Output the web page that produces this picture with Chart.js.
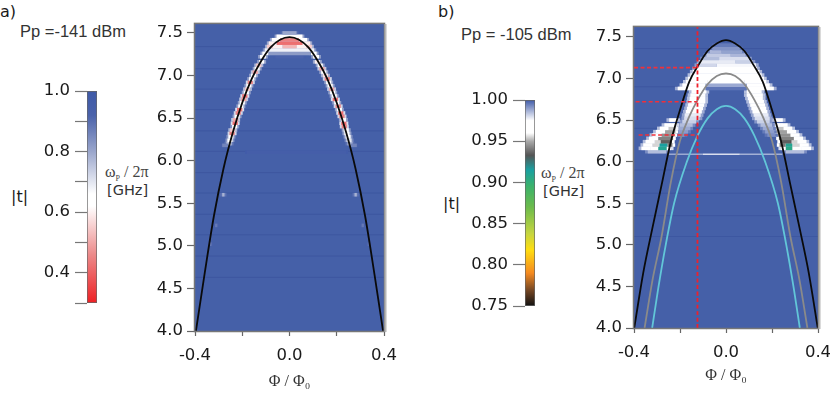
<!DOCTYPE html>
<html>
<head>
<meta charset="utf-8">
<script src="https://cdn.jsdelivr.net/npm/chart.js@4"></script>
<style>
  html, body { margin: 0; padding: 0; background: #fff; }
  #page { position: relative; width: 830px; height: 394px; overflow: hidden; }
  #page canvas { position: absolute; }
  .lbl { position: absolute; white-space: nowrap; color: #1a1a1a; font-family: "Liberation Sans", sans-serif; }
  .big { font-family: "DejaVu Sans", sans-serif; font-size: 16px; }
  .pp { font-size: 16.5px; color: #333; }
  .om { font-family: "Liberation Serif", serif; font-size: 16px; color: #444; }
  .om sub { font-size: 8px; }
  .ghz { font-family: "DejaVu Sans", sans-serif; font-size: 14.5px; color: #333; }
</style>
</head>
<body>
<div id="page">
  <div class="lbl big" style="left:0;top:2px">a)</div>
  <div class="lbl pp" style="left:20px;top:22px">Pp =-141 dBm</div>
  <div class="lbl big" style="left:11px;top:187px">|t|</div>
  <div class="lbl om" style="left:105px;top:163px">&omega;<sub>P</sub> / 2&pi;</div>
  <div class="lbl ghz" style="left:107px;top:182px">[GHz]</div>
  <div class="lbl big" style="left:438px;top:2px">b)</div>
  <div class="lbl pp" style="left:461px;top:25px">Pp = -105 dBm</div>
  <div class="lbl big" style="left:443px;top:194px">|t|</div>
  <div class="lbl om" style="left:541px;top:164px">&omega;<sub>P</sub> / 2&pi;</div>
  <div class="lbl ghz" style="left:543px;top:183px">[GHz]</div>
</div>
<script>
/* Ticks */
var phiTicks = [-0.4, -0.2, 0, 0.2, 0.4];
var phiLabels = [-0.4, 0, 0.4];
var freqTicks = [4, 4.5, 5, 5.5, 6, 6.5, 7, 7.5];

/* Colour scales: |t| stop -> colour */
var stopsA = [0.3, 0.46, 0.62, 0.66, 0.8, 0.92, 1.0];
var colorsA = ['#ee2024', '#ec8a8a', '#ffffff', '#ffffff', '#9aa6cc', '#4a62aa', '#3f5aa8'];
var stopsB = [0.75, 0.77, 0.79, 0.818, 0.838, 0.87, 0.895, 0.915, 0.933, 0.95, 0.96, 0.975, 1.0];
var colorsB = ['#111111', '#7a4a25', '#f58a20', '#ffdd10', '#c5d540', '#6cbb4c', '#3cb26a', '#1aa0a0', '#555555', '#aaaaaa', '#ffffff', '#ffffff', '#3f5aa8'];

/* Panel a, fitted curve */
var curvePhiA = [-0.396, -0.36, -0.32, -0.28, -0.24, -0.2, -0.16, -0.12, -0.08, -0.04, 0, 0.04, 0.08, 0.12, 0.16, 0.2, 0.24, 0.28, 0.32, 0.36, 0.396];
var curveFreqA = [4, 4.66, 5.35, 5.9, 6.33, 6.68, 6.96, 7.17, 7.33, 7.42, 7.45, 7.42, 7.33, 7.17, 6.96, 6.68, 6.33, 5.9, 5.35, 4.66, 4];

/* Panel b, three curves */
var blackPhiB = [-0.399, -0.36, -0.32, -0.28, -0.24, -0.2, -0.16, -0.12, -0.08, -0.04, 0, 0.04, 0.08, 0.12, 0.16, 0.2, 0.24, 0.28, 0.32, 0.36, 0.399];
var blackFreqB = [4, 4.66, 5.2, 5.72, 6.24, 6.62, 6.96, 7.16, 7.33, 7.42, 7.46, 7.42, 7.33, 7.16, 6.96, 6.62, 6.24, 5.72, 5.2, 4.66, 4];
var grayPhiB = [-0.354, -0.32, -0.28, -0.24, -0.2, -0.16, -0.124, -0.08, -0.04, 0, 0.04, 0.08, 0.124, 0.16, 0.2, 0.24, 0.28, 0.32, 0.354];
var grayFreqB = [4, 4.57, 5.1, 5.75, 6.25, 6.54, 6.74, 6.93, 7.03, 7.06, 7.03, 6.93, 6.74, 6.54, 6.25, 5.75, 5.1, 4.57, 4];
var cyanPhiB = [-0.321, -0.295, -0.262, -0.2256, -0.17, -0.124, -0.08, -0.04, 0, 0.04, 0.08, 0.124, 0.17, 0.2256, 0.262, 0.295, 0.321];
var cyanFreqB = [4, 4.47, 5, 5.5, 6, 6.31, 6.52, 6.63, 6.67, 6.63, 6.52, 6.31, 6, 5.5, 5, 4.47, 4];

/* Panel b, dashed markers */
var markerPhiB = -0.124;
var markerFreqB = [7.13, 6.72, 6.32];
var markerStartB = [-0.4, -0.393, -0.38];

/* Dark background rows */
var stripesA = [7.34, 7.08, 6.84, 6.6, 6.35, 6.11, 5.86, 5.62, 5.37, 5.13, 4.88, 4.63];
var stripesB = [7.36, 6.9, 6.4, 5.9, 5.62, 5.35, 5.1];

/* Panel a ridge along the curve: row, centre, |t| left and right */
var ridgeFreqA = [7.16, 7.12, 7.08, 7.04, 7.0, 6.96, 6.92, 6.88, 6.84, 6.8, 6.76, 6.72, 6.68, 6.64, 6.6, 6.56, 6.52, 6.48, 6.44, 6.4, 6.36, 6.32, 6.28, 6.24, 6.2];
var ridgePhiA = [0.118, 0.13, 0.137, 0.145, 0.152, 0.16, 0.166, 0.172, 0.178, 0.183, 0.189, 0.194, 0.2, 0.206, 0.211, 0.217, 0.222, 0.228, 0.23, 0.232, 0.24, 0.243, 0.248, 0.252, 0.256];
var ridgeLeftA = [0.62, 0.55, 0.62, 0.5, 0.62, 0.62, 0.45, 0.62, 0.55, 0.62, 0.42, 0.5, 0.62, 0.62, 0.42, 0.45, 0.62, 0.5, 0.42, 0.66, 0.55, 0.45, 0.66, 0.66, 0.75];
var ridgeRightA = [0.6, 0.62, 0.5, 0.62, 0.58, 0.45, 0.62, 0.62, 0.5, 0.62, 0.62, 0.42, 0.62, 0.45, 0.62, 0.42, 0.45, 0.62, 0.42, 0.45, 0.62, 0.62, 0.66, 0.7, 0.78];

/* Measured cells: [freq, phi from, phi to, |t|] */
var cellsA = [
  [7.50, -0.03, 0.03, 0.8], [7.46, -0.055, 0.055, 0.62],
  [7.42, -0.075, -0.04, 0.62], [7.42, -0.04, 0.04, 0.45], [7.42, 0.04, 0.075, 0.62],
  [7.38, -0.088, -0.055, 0.6], [7.38, -0.055, 0.055, 0.42], [7.38, 0.055, 0.088, 0.6],
  [7.34, -0.095, -0.07, 0.55], [7.34, -0.07, -0.03, 0.6], [7.34, -0.03, 0.03, 0.52], [7.34, 0.03, 0.07, 0.6], [7.34, 0.07, 0.095, 0.55],
  [7.30, -0.105, 0.105, 0.68], [7.26, -0.115, -0.09, 0.62], [7.26, -0.09, 0.09, 0.82], [7.26, 0.09, 0.115, 0.62],
  [7.22, -0.125, -0.10, 0.62], [7.22, -0.06, 0.06, 0.92], [7.22, 0.10, 0.125, 0.62],
  [6.18, -0.285, -0.26, 0.86], [6.18, 0.26, 0.285, 0.86], [6.10, -0.18, 0.24, 0.96],
  [5.60, -0.285, -0.275, 0.78], [5.60, 0.275, 0.285, 0.78], [5.24, -0.315, -0.305, 0.88], [5.24, 0.305, 0.315, 0.88],
  [5.02, -0.34, -0.33, 0.88], [5.02, 0.33, 0.34, 0.9]
];
var cellsB = [
  [7.40, -0.05, 0.05, 0.995], [7.36, -0.06, 0.06, 0.991], [7.32, -0.07, -0.02, 0.986], [7.32, -0.02, 0.07, 0.989],
  [7.28, -0.085, 0.02, 0.983], [7.28, 0.02, 0.085, 0.986], [7.24, -0.10, -0.03, 0.985], [7.24, -0.03, 0.10, 0.98],
  [7.20, -0.115, 0.04, 0.978], [7.20, 0.04, 0.115, 0.982], [7.16, -0.125, -0.04, 0.981], [7.16, -0.04, 0.13, 0.976], [7.12, -0.135, 0.135, 0.975],
  [7.08, -0.145, 0.145, 0.972], [7.04, -0.155, 0.155, 0.97], [7.00, -0.165, 0.165, 0.968],
  [6.96, -0.175, -0.08, 0.968], [6.96, -0.08, 0.08, 0.975], [6.96, 0.08, 0.175, 0.968],
  [6.92, -0.19, -0.09, 0.97], [6.92, -0.09, 0.09, 0.988], [6.92, 0.09, 0.19, 0.97],
  [6.88, -0.21, -0.09, 0.975], [6.88, -0.09, 0.09, 0.996], [6.88, 0.09, 0.208, 0.975],
  [6.84, -0.15, -0.085, 0.97], [6.84, 0.09, 0.155, 0.97], [6.80, -0.155, -0.09, 0.97], [6.80, 0.09, 0.16, 0.97],
  [6.76, -0.158, -0.09, 0.97], [6.76, 0.095, 0.16, 0.97], [6.72, -0.16, -0.09, 0.97], [6.72, 0.10, 0.165, 0.97],
  [6.68, -0.165, -0.095, 0.972], [6.68, 0.105, 0.17, 0.972], [6.64, -0.17, -0.10, 0.975], [6.64, 0.11, 0.175, 0.975],
  [6.60, -0.175, -0.105, 0.975], [6.60, 0.115, 0.18, 0.975], [6.56, -0.18, -0.11, 0.978], [6.56, 0.12, 0.185, 0.978],
  [6.52, -0.182, -0.115, 0.98], [6.52, 0.125, 0.19, 0.98],
  [6.50, -0.247, -0.211, 0.972], [6.50, 0.211, 0.247, 0.972],
  [6.48, -0.19, -0.13, 0.982], [6.48, 0.135, 0.19, 0.982],
  [6.44, -0.268, -0.235, 0.97], [6.44, -0.235, -0.215, 0.962], [6.44, -0.20, -0.145, 0.985], [6.44, 0.15, 0.2, 0.985], [6.44, 0.215, 0.235, 0.962], [6.44, 0.235, 0.268, 0.97],
  [6.40, -0.288, -0.25, 0.97], [6.40, -0.25, -0.218, 0.953], [6.40, -0.205, -0.155, 0.988], [6.40, 0.16, 0.205, 0.988], [6.40, 0.218, 0.25, 0.953], [6.40, 0.25, 0.288, 0.97],
  [6.36, -0.305, -0.265, 0.97], [6.36, -0.265, -0.22, 0.948], [6.36, -0.205, -0.165, 0.99], [6.36, 0.17, 0.21, 0.99], [6.36, 0.22, 0.265, 0.948], [6.36, 0.265, 0.305, 0.97],
  [6.32, -0.32, -0.28, 0.97], [6.32, -0.28, -0.225, 0.945], [6.32, -0.21, -0.18, 0.992], [6.32, 0.18, 0.215, 0.992], [6.32, 0.225, 0.28, 0.945], [6.32, 0.28, 0.32, 0.97],
  [6.28, -0.335, -0.295, 0.97], [6.28, -0.295, -0.23, 0.942], [6.28, 0.23, 0.295, 0.942], [6.28, 0.295, 0.335, 0.97],
  [6.24, -0.35, -0.31, 0.97], [6.24, -0.31, -0.285, 0.955], [6.24, -0.285, -0.235, 0.935], [6.24, 0.235, 0.285, 0.935], [6.24, 0.285, 0.31, 0.955], [6.24, 0.31, 0.35, 0.97],
  [6.20, -0.36, -0.32, 0.97], [6.20, -0.32, -0.29, 0.955], [6.20, -0.29, -0.255, 0.915], [6.20, -0.255, -0.233, 0.94], [6.20, 0.233, 0.259, 0.94], [6.20, 0.259, 0.288, 0.91], [6.20, 0.288, 0.32, 0.955], [6.20, 0.32, 0.36, 0.97],
  [6.16, -0.368, -0.33, 0.972], [6.16, -0.33, -0.295, 0.96], [6.16, -0.295, -0.258, 0.91], [6.16, -0.258, -0.24, 0.96], [6.16, 0.24, 0.259, 0.96], [6.16, 0.259, 0.288, 0.905], [6.16, 0.288, 0.33, 0.96], [6.16, 0.33, 0.37, 0.972],
  [6.12, -0.34, -0.26, 0.985], [6.12, 0.26, 0.34, 0.985]
];
/* Panel b thin row at 6.09 GHz: [phi from, phi to, |t|] */
var thinFreqB = 6.09;
var thinRowB = [[-0.25, -0.10, 0.988], [-0.10, 0.06, 0.98], [0.06, 0.245, 0.987]];

function hexToRgb(h) {
  return [parseInt(h.slice(1, 3), 16), parseInt(h.slice(3, 5), 16), parseInt(h.slice(5, 7), 16)];
}
function colorFor(t, stops, colors) {
  if (t <= stops[0]) return colors[0];
  for (var i = 1; i < stops.length; i++) {
    if (t <= stops[i]) {
      var k = (t - stops[i - 1]) / (stops[i] - stops[i - 1]);
      var a = hexToRgb(colors[i - 1]), b = hexToRgb(colors[i]);
      return 'rgb(' + Math.round(a[0] + (b[0] - a[0]) * k) + ',' + Math.round(a[1] + (b[1] - a[1]) * k) + ',' + Math.round(a[2] + (b[2] - a[2]) * k) + ')';
    }
  }
  return colors[colors.length - 1];
}
function zipPoints(xs, ys) {
  return xs.map(function (x, i) { return { x: x, y: ys[i] }; });
}
function lineSet(points, color, width, dash) {
  return {
    data: points, showLine: true, borderColor: color, borderWidth: width, borderDash: dash || [],
    pointRadius: 0, cubicInterpolationMode: 'monotone', borderCapStyle: 'butt'
  };
}
function segment(x0, x1, f, color, width) {
  return { data: [{ x: x0, y: f }, { x: x1, y: f }], showLine: true, borderColor: color, borderWidth: width, pointRadius: 0, borderCapStyle: 'butt' };
}
function addCanvas(left, top, w, h) {
  var c = document.createElement('canvas');
  c.width = w; c.height = h;
  c.style.left = left + 'px'; c.style.top = top + 'px';
  document.getElementById('page').appendChild(c);
  return c;
}
var tickFont = { family: 'DejaVu Sans', size: 16.5 };

/* box = plot area in page pixels. first dataset is drawn on top: curves, cells, soft edges, stripes */
function heatChart(box, yMax, curves, cells, extra, stripes, stops, colors, rowPx, edge) {
  var left = box.left - 70, top = box.top - 12, w = box.right - left + 24, h = 394 - top;
  var datasets = curves.concat(extra);
  cells.forEach(function (c) {
    datasets.push(segment(c[1], c[2], c[0], colorFor(c[3], stops, colors), rowPx));
  });
  cells.forEach(function (c) {
    datasets.push(segment(c[1] - edge, c[2] + edge, c[0], colorFor((c[3] + 1) / 2, stops, colors), rowPx));
  });
  stripes.forEach(function (f) {
    datasets.push(segment(-0.4, 0.4, f, 'rgba(40,60,140,0.25)', 1));
  });
  return new Chart(addCanvas(left, top, w, h), {
    type: 'scatter',
    data: { datasets: datasets },
    options: {
      responsive: false, animation: false, events: [],
      layout: { padding: { left: 0, top: box.top - top, right: left + w - box.right, bottom: top + h - box.bottom - box.xHeight } },
      plugins: { legend: { display: false }, tooltip: { enabled: false } },
      scales: {
        x: {
          type: 'linear', min: -0.4, max: 0.4,
          afterFit: function (s) { s.height = box.xHeight; },
          afterBuildTicks: function (s) { s.ticks = phiTicks.map(function (v) { return { value: v }; }); },
          grid: { drawOnChartArea: false, tickLength: 5, color: '#666', tickWidth: 1.2 },
          border: { display: false },
          ticks: {
            font: tickFont, color: '#1a1a1a', maxRotation: 0, autoSkip: false, padding: 10,
            callback: function (v) { return phiLabels.indexOf(v) !== -1 ? v.toFixed(1) : ''; }
          },
          title: { display: true, text: '\u03a6 / \u03a6\u2080', font: { family: 'Liberation Serif', size: 16 }, color: '#333', padding: { top: 8, bottom: 0 } }
        },
        y: {
          type: 'linear', min: 4, max: yMax,
          afterFit: function (s) { s.width = 70; },
          afterBuildTicks: function (s) { s.ticks = freqTicks.map(function (v) { return { value: v }; }); },
          grid: { drawOnChartArea: false, tickLength: 8, color: '#666', tickWidth: 1.2 },
          border: { display: false },
          ticks: { font: tickFont, color: '#1a1a1a', padding: 4, callback: function (v) { return v.toFixed(1); } }
        }
      }
    },
    plugins: [{
      id: 'frame',
      beforeDatasetsDraw: function (chart) {
        var a = chart.chartArea, g = chart.ctx;
        g.fillStyle = '#4560a8';
        g.fillRect(a.left, a.top, a.width, a.height);
      },
      afterDraw: function (chart) {
        var a = chart.chartArea, g = chart.ctx;
        g.save();
        g.strokeStyle = '#777'; g.lineWidth = 1.5;
        g.strokeRect(a.left - 0.5, a.top - 0.5, a.width + 1, a.height + 1);
        g.strokeStyle = '#b5b5b5'; g.lineWidth = 2;
        g.beginPath(); g.moveTo(a.right + 1.5, a.top); g.lineTo(a.right + 1.5, a.bottom + 1); g.stroke();
        g.restore();
      }
    }]
  });
}

function colorbar(box, yMin, yMax, step, labelEvery, digits, stops, colors) {
  var margin = 30;
  var left = box.left - 70, top = box.top - margin, w = 82, h = box.bottom - box.top + margin * 2;
  return new Chart(addCanvas(left, top, w, h), {
    type: 'bar',
    data: {
      labels: ['|t|'],
      datasets: [{
        data: [[yMin, yMax]], barPercentage: 1, categoryPercentage: 1,
        borderColor: '#666', borderWidth: 1, borderSkipped: false, backgroundColor: '#3f5aa8'
      }]
    },
    options: {
      responsive: false, animation: false, events: [],
      layout: { padding: { left: 0, right: 2, top: margin, bottom: margin } },
      plugins: { legend: { display: false }, tooltip: { enabled: false } },
      scales: {
        x: { display: false },
        y: {
          type: 'linear', min: yMin, max: yMax,
          afterFit: function (s) { s.width = 70; },
          grid: { drawOnChartArea: false, tickLength: 12, color: '#777', tickWidth: 1.2 },
          border: { display: false },
          ticks: {
            stepSize: step, font: tickFont, color: '#1a1a1a', padding: 5, autoSkip: false,
            callback: function (v) {
              var n = Math.round((yMax - v) / step);
              return n % labelEvery === 0 ? v.toFixed(digits) : '';
            }
          }
        }
      }
    },
    plugins: [{
      id: 'barGradient',
      afterLayout: function (chart) {
        var y = chart.scales.y;
        var g = chart.ctx.createLinearGradient(0, y.getPixelForValue(yMin), 0, y.getPixelForValue(yMax));
        stops.forEach(function (s, i) { g.addColorStop((s - yMin) / (yMax - yMin), colors[i]); });
        chart.data.datasets[0].backgroundColor = g;
      }
    }]
  });
}

colorbar({ left: 87, top: 91, bottom: 303 }, 0.3, 1.0, 0.1, 2, 1, stopsA, colorsA);
colorbar({ left: 524.5, top: 100, bottom: 306 }, 0.75, 1.0, 0.05, 1, 2, stopsB, colorsB);

var allCellsA = cellsA.slice();
ridgeFreqA.forEach(function (f, i) {
  allCellsA.push([f, -ridgePhiA[i] - 0.011, -ridgePhiA[i] + 0.011, ridgeLeftA[i]]);
  allCellsA.push([f, ridgePhiA[i] - 0.011, ridgePhiA[i] + 0.011, ridgeRightA[i]]);
});
heatChart({ left: 195, right: 384, top: 22, bottom: 331, xHeight: 60 }, 7.606,
  [lineSet(zipPoints(curvePhiA, curveFreqA), '#0a0a0a', 1.8)],
  allCellsA, [], stripesA, stopsA, colorsA, 3.6, 0.008);

var redSets = [lineSet([{ x: markerPhiB, y: 4 }, { x: markerPhiB, y: 7.62 }], '#f0202a', 1.8, [4, 2.5])];
markerFreqB.forEach(function (f, i) {
  redSets.push(lineSet([{ x: markerStartB[i], y: f }, { x: markerPhiB, y: f }], '#f0303a', 1.6, [4, 2.5]));
});
var thinSets = thinRowB.map(function (c) {
  return segment(c[0], c[1], thinFreqB, colorFor(c[2], stopsB, colorsB), 1.5);
});
heatChart({ left: 633.5, right: 817.5, top: 25, bottom: 328, xHeight: 57 }, 7.62,
  redSets.concat([
    lineSet(zipPoints(blackPhiB, blackFreqB), '#0a0a0a', 1.8),
    lineSet(zipPoints(grayPhiB, grayFreqB), '#8a8a8a', 1.8),
    lineSet(zipPoints(cyanPhiB, cyanFreqB), '#62c6d8', 1.8)
  ]),
  cellsB, thinSets, stripesB, stopsB, colorsB, 3.6, 0.012);
</script>
</body>
</html>
